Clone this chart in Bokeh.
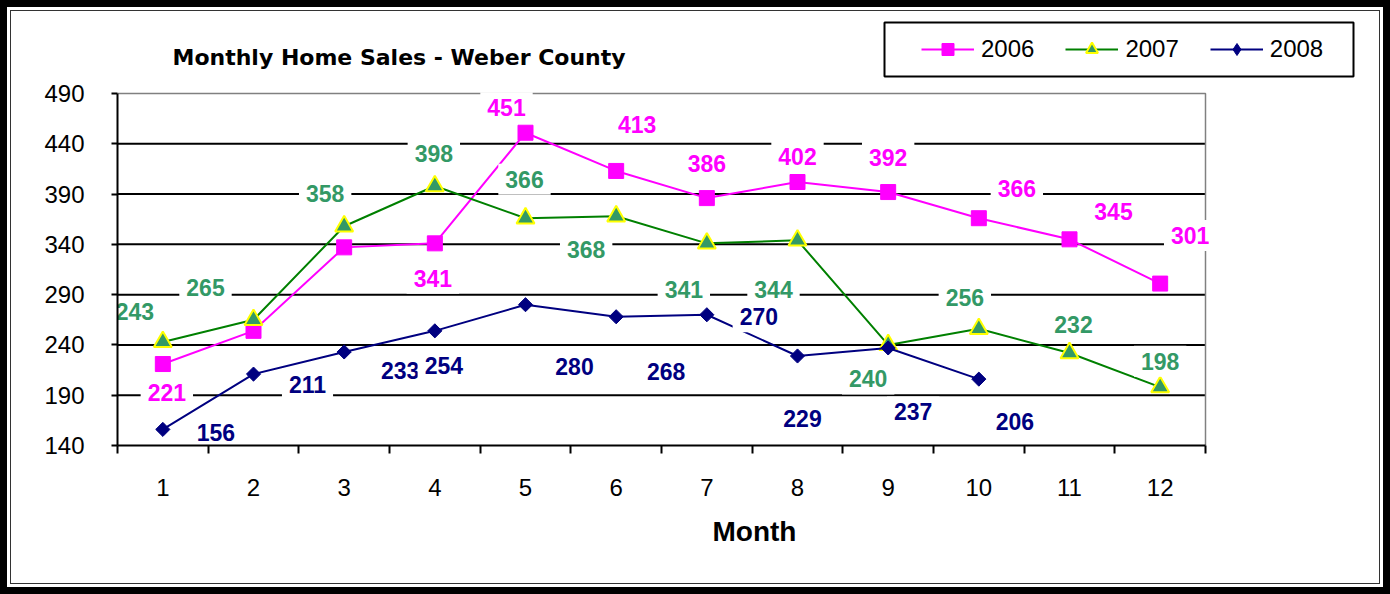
import math
from bokeh.plotting import figure
from bokeh.models import (ColumnDataSource, Range1d, FixedTicker, Legend, LegendItem,
                          BoxAnnotation, Label, Title)
from bokeh.core.properties import value
from bokeh.embed import file_html
from bokeh.resources import INLINE

# ---------------- data ----------------
months = [1, 2, 3, 4, 5, 6, 7, 8, 9, 10, 11, 12]
sales_2006 = [221, 254, 337, 341, 451, 413, 386, 402, 392, 366, 345, 301]
sales_2007 = [243, 265, 358, 398, 366, 368, 341, 344, 240, 256, 232, 198]
sales_2008 = [156, 211, 233, 254, 280, 268, 270, 229, 237, 206]
series_names = ["2006", "2007", "2008"]
y_ticks = [140, 190, 240, 290, 340, 390, 440, 490]
title_text = "Monthly Home Sales - Weber County"
x_title = "Month"

# label placement (pixel offsets from the point, style only); None = no label
off_2006 = [(4, 29), None, None, (-2, 36), (-19, -24), (21, -45), (0, -34), (0, -25),
            (0, -34), (38, -29), (44, -27), (30, -47)]
off_2007 = [(-28, -29), (-48, -31), (-19, -32), (-1, -32), (-1, -38), (-30, 34),
            (-23, 47), (-24, 50), (-20, 35), (-14, -30), (4, -27), (0, -25)]
off_2008 = [(53, 4), (54, 11), (56, 20), (9, 36), (49, 63), (50, 56), (52, 3),
            (5, 64), (25, 65), (36, 43)]

MAGENTA = "#FF00FF"
GREEN_LINE = "#008000"
GREEN = "#339966"
NAVY = "#000080"
FONT = value("Liberation Sans")

# ---------------- layout (canvas pixels) ----------------
W, H = 1368, 572
PLOT_L, PLOT_R, PLOT_T, PLOT_B = 106, 1194, 82, 434
x0, x1 = months[0] - 0.5, months[-1] + 0.5
y0, y1 = y_ticks[0], y_ticks[-1]
x_end = x0 + (x1 - x0) * (W - PLOT_L) / (PLOT_R - PLOT_L)
y_end = y0 + (y1 - y0) * PLOT_B / (PLOT_B - PLOT_T)

p = figure(width=W, height=H, x_range=Range1d(x0, x_end), y_range=Range1d(y0, y_end),
           output_backend="svg", toolbar_location=None, title=None,
           min_border_left=PLOT_L, min_border_right=0, min_border_top=0,
           min_border_bottom=H - PLOT_B,
           background_fill_color="white", border_fill_color="white",
           outline_line_color=None)
p.styles = {"margin": "11px",
            "box-shadow": "0 0 0 1px #333333, 0 0 0 4px #ffffff, 0 0 0 11px #000000"}

# axes
p.yaxis.ticker = FixedTicker(ticks=y_ticks)
p.yaxis.bounds = (y0, y1)
p.yaxis.major_label_text_font = "Liberation Sans"
p.yaxis.major_label_text_font_size = "24px"
p.yaxis.major_label_text_color = "black"
p.yaxis.major_tick_out = 6
p.yaxis.major_tick_in = 0
p.yaxis.major_tick_line_width = 2
p.yaxis.minor_tick_line_color = None
p.yaxis.axis_line_width = 2
p.yaxis.major_label_standoff = 27

p.xaxis.ticker = FixedTicker(ticks=months, minor_ticks=[m - 0.5 for m in months] + [x1])
p.xaxis.bounds = (x0, x1)
p.xaxis.major_label_text_font = "Liberation Sans"
p.xaxis.major_label_text_font_size = "24px"
p.xaxis.major_label_text_color = "black"
p.xaxis.major_tick_out = 0
p.xaxis.major_tick_in = 0
p.xaxis.minor_tick_out = 8
p.xaxis.minor_tick_in = 0
p.xaxis.minor_tick_line_color = "black"
p.xaxis.minor_tick_line_width = 2
p.xaxis.axis_line_width = 2
p.xaxis.major_label_standoff = 25

p.xgrid.visible = False
p.ygrid.visible = False

# horizontal grid lines (limited to the plot area) and plot-area border
grid_y = y_ticks[1:-1]
p.segment(x0=[x0] * len(grid_y), x1=[x1] * len(grid_y), y0=grid_y, y1=grid_y,
          line_color="black", line_width=2)
p.line([x0, x1, x1], [y1, y1, y0], line_color="#808080", line_width=1.5)

# series
l06 = p.line(months, sales_2006, line_color=MAGENTA, line_width=2)
m06 = p.scatter(months, sales_2006, marker="square", size=15, fill_color=MAGENTA, line_color=MAGENTA)
l07 = p.line(months, sales_2007, line_color=GREEN_LINE, line_width=2)
m07 = p.scatter(months, sales_2007, marker="triangle", size=18, fill_color=GREEN,
                line_color="#FFFF00", line_width=2)
m08x = months[:len(sales_2008)]
l08 = p.line(m08x, sales_2008, line_color=NAVY, line_width=2)
# diamond key (used by the legend; hidden under the rotated squares in the plot)
m08_key = p.scatter(m08x, sales_2008, marker="diamond", size=10, fill_color=NAVY, line_color=NAVY)
m08 = p.scatter(m08x, sales_2008, marker="square", angle=math.pi / 4, size=10,
                fill_color=NAVY, line_color=NAVY)

# data labels
def add_labels(xs, ys, offs, color):
    xx, yy, tt, dx, dy = [], [], [], [], []
    for x, y, o in zip(xs, ys, offs):
        if o is None:
            continue
        xx.append(x); yy.append(y); tt.append(str(y)); dx.append(o[0]); dy.append(o[1] - 1)
    src = ColumnDataSource(dict(x=xx, y=yy, t=tt, dx=dx, dy=dy))
    p.text(x="x", y="y", text="t", x_offset="dx", y_offset="dy", source=src,
           text_align="center", text_baseline="middle", text_font=FONT,
           text_font_style="bold", text_font_size="23px", text_color=color,
           background_fill_color="white", padding=7)

add_labels(months, sales_2006, off_2006, MAGENTA)
add_labels(months, sales_2007, off_2007, GREEN)
add_labels(m08x, sales_2008, off_2008, NAVY)

# legend
legend = Legend(items=[LegendItem(label=series_names[0], renderers=[l06, m06]),
                       LegendItem(label=series_names[1], renderers=[l07, m07]),
                       LegendItem(label=series_names[2], renderers=[l08, m08_key])],
                orientation="horizontal", location=(800, 377), padding=4, margin=0,
                spacing=31, glyph_width=53, glyph_height=30, label_standoff=7, label_width=53,
                label_text_font="Liberation Sans", label_text_font_size="24px",
                label_text_color="black",
                border_line_alpha=0, background_fill_alpha=0)
p.add_layout(legend)

# legend frame
p.add_layout(BoxAnnotation(left=873, right=1342, top=11, bottom=65,
                           left_units="canvas", right_units="canvas",
                           top_units="canvas", bottom_units="canvas",
                           fill_alpha=0, line_color="black", line_width=2, line_alpha=1))

# chart title
p.add_layout(Label(x=55, y=388, x_units="screen", y_units="screen", text=title_text,
                   text_font="DejaVu Sans", text_font_style="bold",
                   text_font_size="22px", text_align="left", text_baseline="alphabetic",
                   text_color="black"))

# x-axis title
p.add_layout(Title(text=x_title, align="left", offset=595, standoff=30,
                   text_font="Liberation Sans", text_font_style="bold",
                   text_font_size="28px", text_color="black"), "below")

open("out.html", "w").write(file_html(p, INLINE))
